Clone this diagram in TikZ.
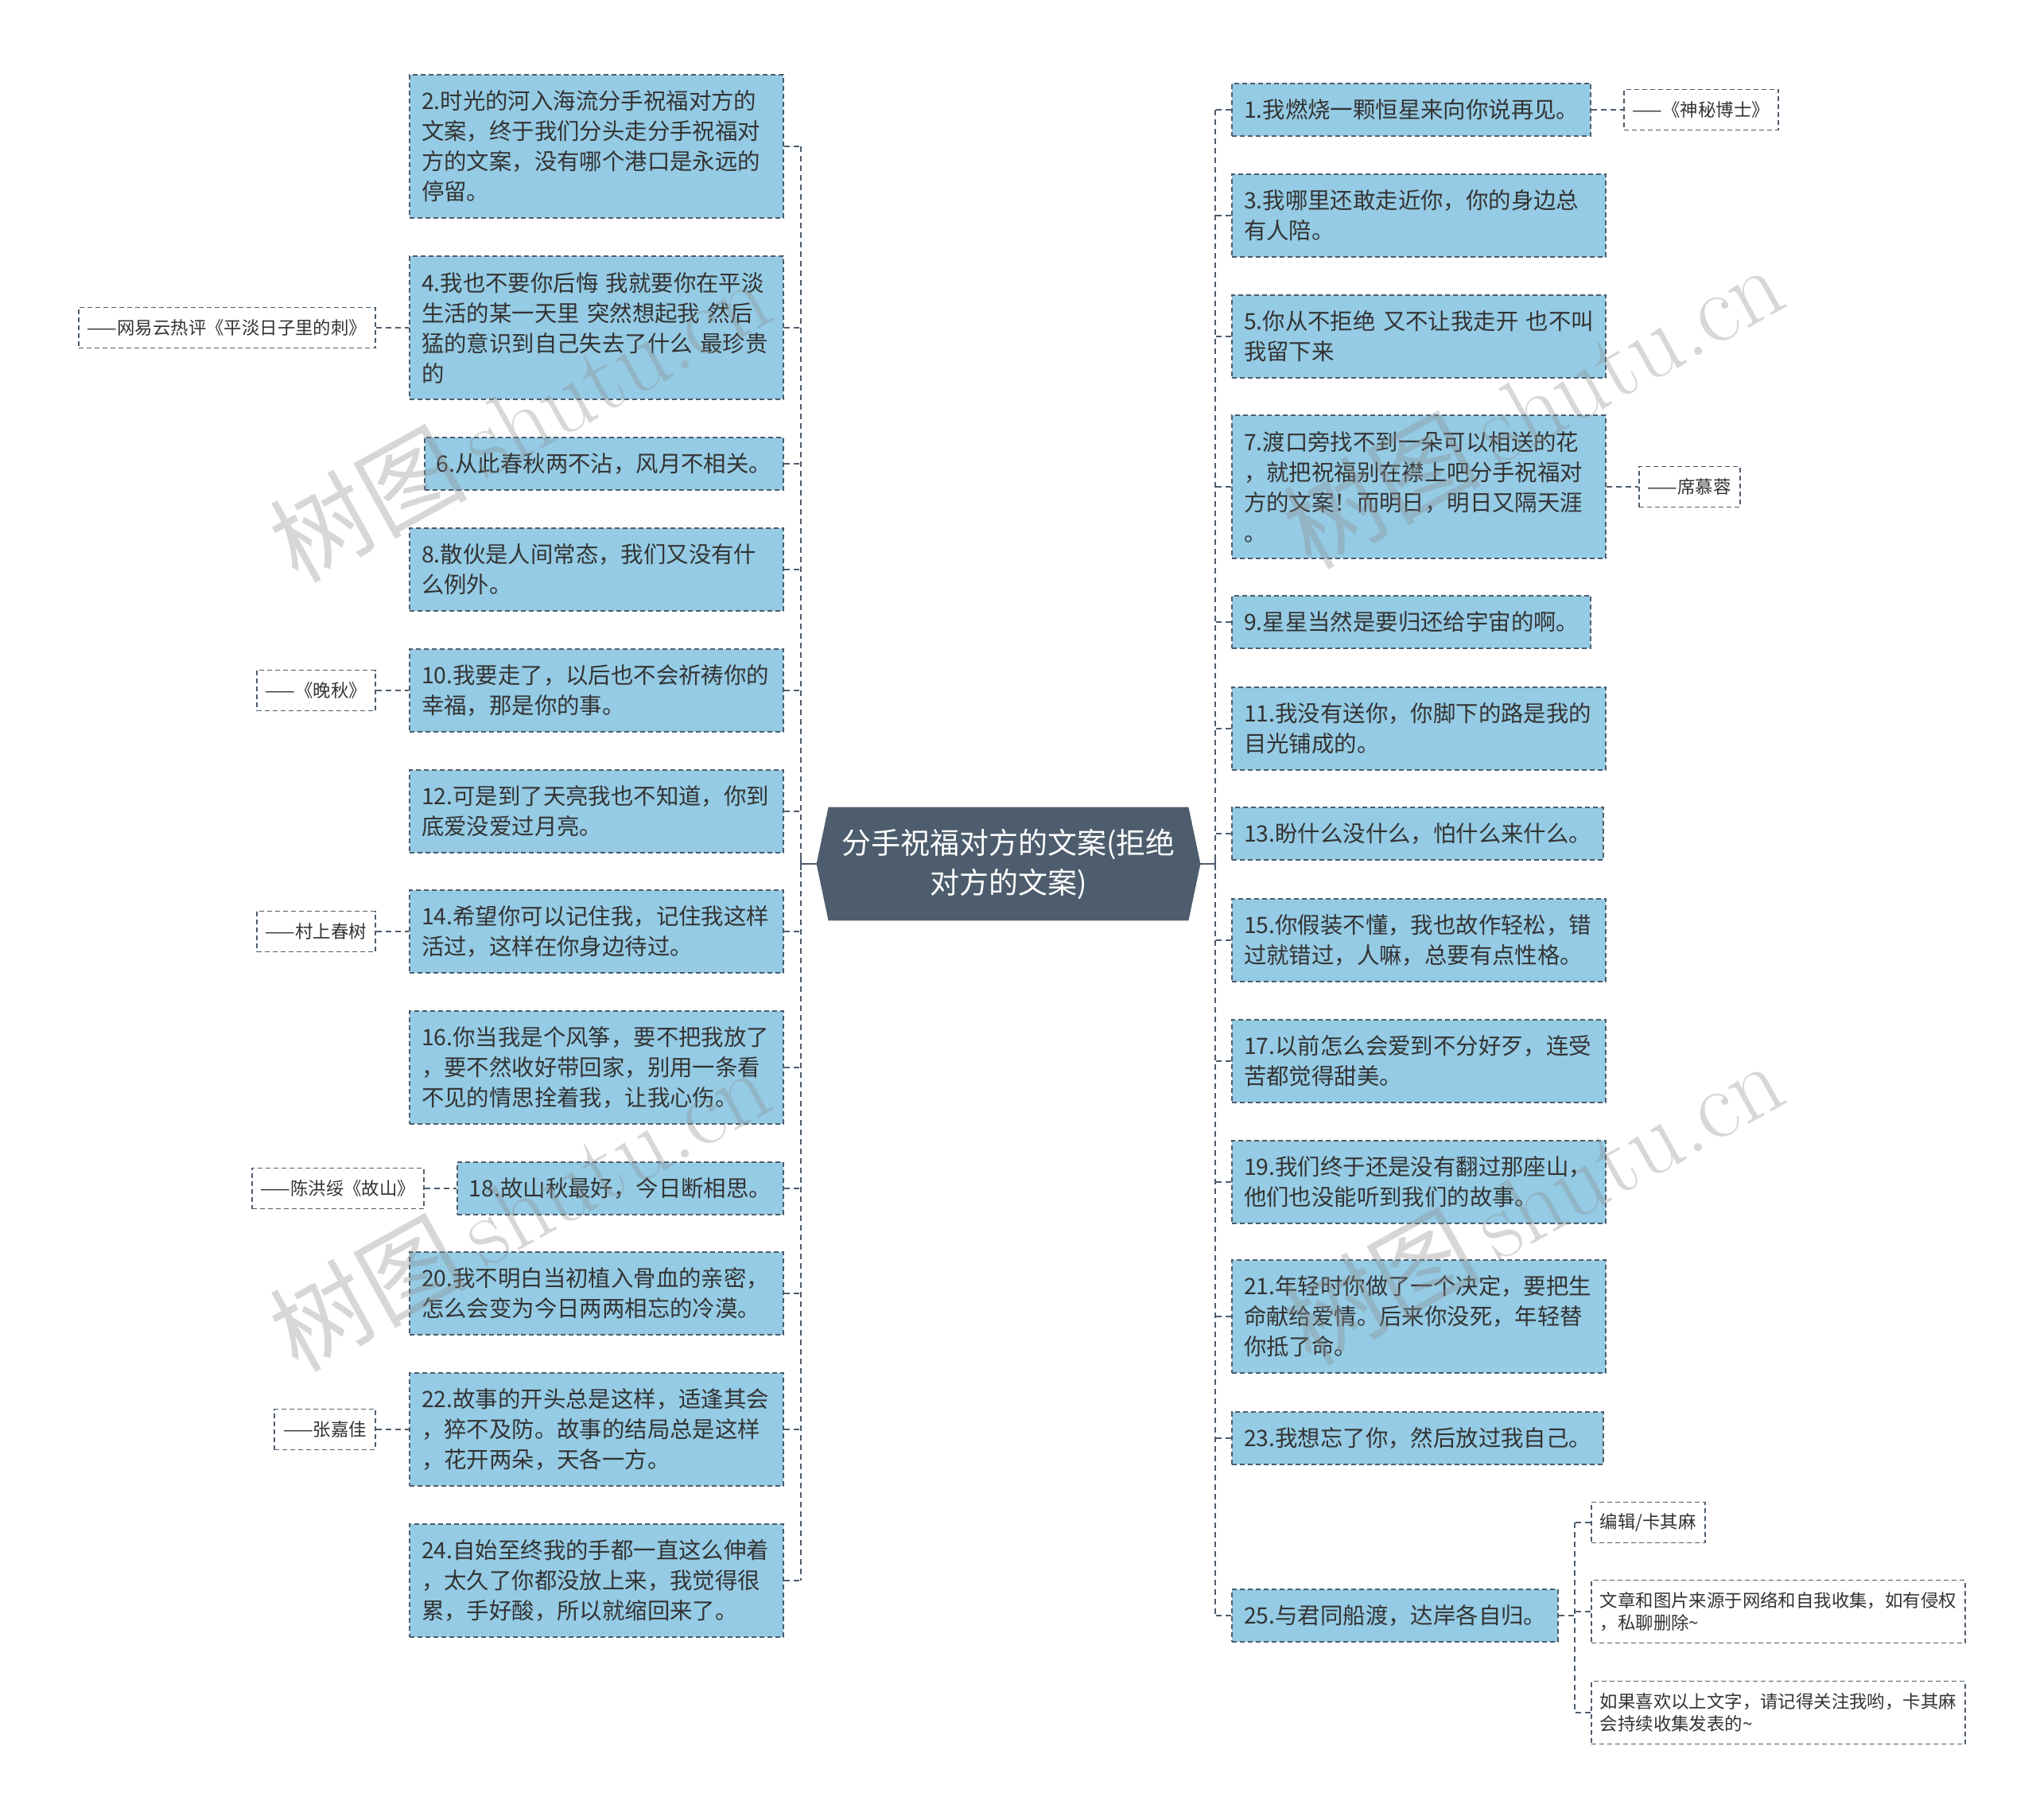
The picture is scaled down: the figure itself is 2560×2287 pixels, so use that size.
\documentclass[tikz,border=0pt]{standalone}
\usepackage{fontspec}
\newfontfamily\cjk{Noto Sans CJK SC}
\usetikzlibrary{backgrounds}
\definecolor{mmSlate}{HTML}{4D5D6D}
\definecolor{mmSky}{HTML}{95CBE4}
\definecolor{mmInk}{HTML}{333333}

\begin{document}
\begin{tikzpicture}[
  x=0.5pt, y=-0.5pt,
  box/.style={draw=mmSlate, fill=mmSky, line width=1pt, dash pattern=on 3pt off 2pt,
              font=\cjk\fontsize{14.2pt}{19pt}\selectfont, text=mmInk, align=left,
              inner xsep=7.5pt, inner ysep=0pt, minimum height=14pt+19pt*#1},
  box/.default=1,
  wide/.style={text width=220pt},
  note/.style={draw=mmSlate, fill=white, line width=0.9pt, dash pattern=on 3pt off 2pt,
               font=\cjk\fontsize{11.2pt}{14pt}\selectfont, text=mmInk, align=left,
               inner xsep=5.5pt, inner ysep=0pt, minimum height=11.5pt+14pt*#1},
  note/.default=1,
  hub/.style={font=\cjk\fontsize{18.5pt}{25pt}\selectfont, text=white, align=center,
              minimum width=241pt, minimum height=71pt, inner sep=0pt},
  hubline/.style={draw=mmSlate, line width=1.3pt},
  link/.style={draw=mmSlate, line width=1.2pt, dash pattern=on 3.5pt off 2.5pt},
  wm/.style={font=\fontsize{62pt}{62pt}\selectfont, text=black!45, text opacity=0.35, rotate=29}
]
\useasboundingbox (0,0) rectangle (2560,2287);

% ===== CENTER =====
\node[hub] (ctr) at (1268,1086) {分手祝福对方的文案(拒绝\\对方的文案)};
\begin{scope}[on background layer]
  \fill[mmSlate] (ctr.west) -- ([xshift=7.5pt]ctr.north west) -- ([xshift=-7.5pt]ctr.north east)
    -- (ctr.east) -- ([xshift=-7.5pt]ctr.south east) -- ([xshift=7.5pt]ctr.south west) -- cycle;
\end{scope}

\coordinate (lsp) at (1007,1086);
\coordinate (rsp) at (1528,1086);

% ===== LEFT branch =====
\node[box=4, wide, anchor=east] (b2)  at (986,184)  {2.时光的河入海流分手祝福对方的\\文案，终于我们分头走分手祝福对\\方的文案，没有哪个港口是永远的\\停留。};
\node[box=4, wide, anchor=east] (b4)  at (986,412)  {4.我也不要你后悔~我就要你在平淡\\生活的某一天里~突然想起我~然后\\猛的意识到自己失去了什么~最珍贵\\的};
\node[box, anchor=east]         (b6)  at (986,583)  {6.从此春秋两不沾，风月不相关。};
\node[box=2, wide, anchor=east] (b8)  at (986,716)  {8.散伙是人间常态，我们又没有什\\么例外。};
\node[box=2, wide, anchor=east] (b10) at (986,868)  {10.我要走了，以后也不会祈祷你的\\幸福，那是你的事。};
\node[box=2, wide, anchor=east] (b12) at (986,1020) {12.可是到了天亮我也不知道，你到\\底爱没爱过月亮。};
\node[box=2, wide, anchor=east] (b14) at (986,1171) {14.希望你可以记住我，记住我这样\\活过，这样在你身边待过。};
\node[box=3, wide, anchor=east] (b16) at (986,1342) {16.你当我是个风筝，要不把我放了\\，要不然收好带回家，别用一条看\\不见的情思拴着我，让我心伤。};
\node[box, anchor=east]         (b18) at (986,1494) {18.故山秋最好，今日断相思。};
\node[box=2, wide, anchor=east] (b20) at (986,1626) {20.我不明白当初植入骨血的亲密，\\怎么会变为今日两两相忘的冷漠。};
\node[box=3, wide, anchor=east] (b22) at (986,1797) {22.故事的开头总是这样，适逢其会\\，猝不及防。故事的结局总是这样\\，花开两朵，天各一方。};
\node[box=3, wide, anchor=east] (b24) at (986,1987) {24.自始至终我的手都一直这么伸着\\，太久了你都没放上来，我觉得很\\累，手好酸，所以就缩回来了。};

\node[note, anchor=east] (a4)  at (473,412)  {——网易云热评《平淡日子里的刺》};
\node[note, anchor=east] (a10) at (473,868)  {——《晚秋》};
\node[note, anchor=east] (a14) at (473,1171) {——村上春树};
\node[note, anchor=east] (a18) at (534,1494) {——陈洪绥《故山》};
\node[note, anchor=east] (a22) at (473,1797) {——张嘉佳};

% ===== RIGHT branch =====
\node[box, anchor=west]         (b1)  at (1548,138)  {1.我燃烧一颗恒星来向你说再见。};
\node[box=2, wide, anchor=west] (b3)  at (1548,271)  {3.我哪里还敢走近你，你的身边总\\有人陪。};
\node[box=2, wide, anchor=west] (b5)  at (1548,423)  {5.你从不拒绝~又不让我走开~也不叫\\我留下来};
\node[box=4, wide, anchor=west] (b7)  at (1548,612)  {7.渡口旁找不到一朵可以相送的花\\，就把祝福别在襟上吧分手祝福对\\方的文案！而明日，明日又隔天涯\\。};
\node[box, anchor=west]         (b9)  at (1548,782)  {9.星星当然是要归还给宇宙的啊。};
\node[box=2, wide, anchor=west] (b11) at (1548,916)  {11.我没有送你，你脚下的路是我的\\目光铺成的。};
\node[box, anchor=west]         (b13) at (1548,1048) {13.盼什么没什么，怕什么来什么。};
\node[box=2, wide, anchor=west] (b15) at (1548,1182) {15.你假装不懂，我也故作轻松，错\\过就错过，人嘛，总要有点性格。};
\node[box=2, wide, anchor=west] (b17) at (1548,1334) {17.以前怎么会爱到不分好歹，连受\\苦都觉得甜美。};
\node[box=2, wide, anchor=west] (b19) at (1548,1486) {19.我们终于还是没有翻过那座山，\\他们也没能听到我们的故事。};
\node[box=3, wide, anchor=west] (b21) at (1548,1655) {21.年轻时你做了一个决定，要把生\\命献给爱情。后来你没死，年轻替\\你抵了命。};
\node[box, anchor=west]         (b23) at (1548,1808) {23.我想忘了你，然后放过我自己。};
\node[box, anchor=west]         (b25) at (1548,2031) {25.与君同船渡，达岸各自归。};

\node[note, anchor=west] (a1) at (2041,138) {——《神秘博士》};
\node[note, anchor=west] (a7) at (2060,612) {——席慕蓉};

\coordinate (sub) at (1980,2031);
\node[note, anchor=west]   (c1) at (2000,1914) {编辑/卡其麻};
\node[note=2, anchor=west] (c2) at (2000,2026) {文章和图片来源于网络和自我收集，如有侵权\\，私聊删除\textasciitilde};
\node[note=2, anchor=west] (c3) at (2000,2153) {如果喜欢以上文字，请记得关注我哟，卡其麻\\会持续收集发表的\textasciitilde};

% ===== connectors =====
\draw[hubline] (ctr.west) -- (lsp) ++(0,-8) -- ++(0,16);
\draw[hubline] (ctr.east) -- (rsp) ++(0,-8) -- ++(0,16);

\draw[link] (b2.east -| lsp) -- (b24.east -| lsp);
\draw[link] (b2.east)  -- (b2.east -| lsp);
\draw[link] (b4.east)  -- (b4.east -| lsp);
\draw[link] (b6.east)  -- (b6.east -| lsp);
\draw[link] (b8.east)  -- (b8.east -| lsp);
\draw[link] (b10.east) -- (b10.east -| lsp);
\draw[link] (b12.east) -- (b12.east -| lsp);
\draw[link] (b14.east) -- (b14.east -| lsp);
\draw[link] (b16.east) -- (b16.east -| lsp);
\draw[link] (b18.east) -- (b18.east -| lsp);
\draw[link] (b20.east) -- (b20.east -| lsp);
\draw[link] (b22.east) -- (b22.east -| lsp);
\draw[link] (b24.east) -- (b24.east -| lsp);

\draw[link] (b1.west -| rsp) -- (b25.west -| rsp);
\draw[link] (b1.west)  -- (b1.west -| rsp);
\draw[link] (b3.west)  -- (b3.west -| rsp);
\draw[link] (b5.west)  -- (b5.west -| rsp);
\draw[link] (b7.west)  -- (b7.west -| rsp);
\draw[link] (b9.west)  -- (b9.west -| rsp);
\draw[link] (b11.west) -- (b11.west -| rsp);
\draw[link] (b13.west) -- (b13.west -| rsp);
\draw[link] (b15.west) -- (b15.west -| rsp);
\draw[link] (b17.west) -- (b17.west -| rsp);
\draw[link] (b19.west) -- (b19.west -| rsp);
\draw[link] (b21.west) -- (b21.west -| rsp);
\draw[link] (b23.west) -- (b23.west -| rsp);
\draw[link] (b25.west) -- (b25.west -| rsp);

% notes
\draw[link] (a4)  -- (b4);
\draw[link] (a10) -- (b10);
\draw[link] (a14) -- (b14);
\draw[link] (a18) -- (b18);
\draw[link] (a22) -- (b22);
\draw[link] (b1)  -- (a1);
\draw[link] (b7)  -- (a7);

\draw[link] (b25.east) -- (sub);
\draw[link] (c1.west -| sub) -- (c3.west -| sub);
\draw[link] (c1.west) -- (c1.west -| sub);
\draw[link] (c2.west) -- (c2.west -| sub);
\draw[link] (c3.west) -- (c3.west -| sub);

% watermark
\node[wm] (wm1) at (653,526)  {{\cjk 树图}\,shutu.cn};
\node[wm] (wm2) at (653,1518) {{\cjk 树图}\,shutu.cn};
\node[wm] (wm3) at (1927,509) {{\cjk 树图}\,shutu.cn};
\node[wm] (wm4) at (1927,1510) {{\cjk 树图}\,shutu.cn};

\end{tikzpicture}
\end{document}
